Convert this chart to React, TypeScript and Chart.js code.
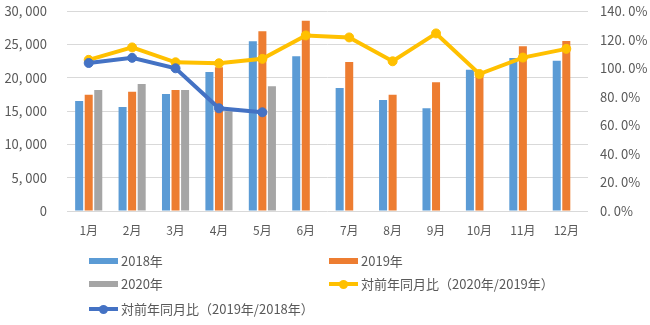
import React, { useEffect, useRef } from "react";
import { Chart, registerables } from "chart.js";

Chart.register(...registerables);

const months = ["1月", "2月", "3月", "4月", "5月", "6月", "7月", "8月", "9月", "10月", "11月", "12月"];
const sales2018 = [16500, 15600, 17550, 20850, 25450, 23200, 18450, 16650, 15400, 21200, 22950, 22550];
const sales2019 = [17450, 17900, 18150, 21550, 26950, 28550, 22350, 17450, 19300, 20400, 24700, 25500];
const sales2020 = [18150, 19050, 18150, 14950, 18700, null, null, null, null, null, null, null];
const ratioYellow = [1.058, 1.145, 1.041, 1.034, 1.065, 1.229, 1.215, 1.048, 1.243, 0.959, 1.074, 1.135];
const ratioBlue = [1.036, 1.072, 0.999, 0.719, 0.691, null, null, null, null, null, null, null];

const seriesNames = ["2018年", "2019年", "2020年", "対前年同月比（2020年/2019年）", "対前年同月比（2019年/2018年）"];
const colors = ["#5B9BD5", "#ED7D31", "#A5A5A5", "#FFC000", "#4472C4"];

const FONT = "'Noto Sans CJK JP', 'Noto Sans', sans-serif";
const TEXT = "#595959";

export default function App() {
  const ref = useRef<HTMLCanvasElement | null>(null);

  useEffect(() => {
    document.body.style.margin = "0";
    const ctx = ref.current!;
    const chart = new Chart(ctx, {
      type: "bar",
      data: {
        labels: months,
        datasets: [
          {
            type: "line",
            label: seriesNames[4],
            data: ratioBlue,
            yAxisID: "y1",
            borderColor: colors[4],
            backgroundColor: colors[4],
            borderWidth: 4,
            pointRadius: 4.5,
            pointBorderWidth: 1,
            order: 0,
          },
          {
            type: "line",
            label: seriesNames[3],
            data: ratioYellow,
            yAxisID: "y1",
            borderColor: colors[3],
            backgroundColor: colors[3],
            borderWidth: 4,
            pointRadius: 4.5,
            pointBorderWidth: 1,
            order: 1,
          },
          {
            label: seriesNames[0],
            data: sales2018,
            backgroundColor: colors[0],
            yAxisID: "y",
            categoryPercentage: 0.66,
            barPercentage: 0.84,
            order: 2,
          },
          {
            label: seriesNames[1],
            data: sales2019,
            backgroundColor: colors[1],
            yAxisID: "y",
            categoryPercentage: 0.66,
            barPercentage: 0.84,
            order: 2,
          },
          {
            label: seriesNames[2],
            data: sales2020,
            backgroundColor: colors[2],
            yAxisID: "y",
            categoryPercentage: 0.66,
            barPercentage: 0.84,
            order: 2,
          },
        ],
      } as any,
      options: {
        responsive: false,
        animation: false,
        devicePixelRatio: 1,
        layout: { padding: { top: 11, bottom: 84, left: 0, right: 0 } },
        plugins: {
          legend: { display: false },
          tooltip: { enabled: false },
        },
        scales: {
          x: {
            grid: { display: false },
            border: { display: false },
            ticks: { color: TEXT, font: { family: FONT, size: 12 }, padding: 4, maxRotation: 0 },
            afterFit: (s: any) => {
              s.height = 30;
              s.paddingLeft = 0;
              s.paddingRight = 0;
            },
          },
          y: {
            position: "left",
            min: 0,
            max: 30000,
            ticks: {
              stepSize: 5000,
              color: TEXT,
              font: { family: FONT, size: 13 },
              padding: 20,
              callback: (v: any) => Number(v).toLocaleString("en-US").replace(",", ", "),
            },
            grid: { color: "#D9D9D9", drawTicks: false, lineWidth: 1 },
            border: { display: false },
            afterFit: (s: any) => {
              s.width = 67;
              s.paddingTop = 0;
              s.paddingBottom = 0;
            },
          },
          y1: {
            position: "right",
            min: 0,
            max: 1.4,
            ticks: {
              stepSize: 0.2,
              color: TEXT,
              font: { family: FONT, size: 13 },
              padding: 12,
              callback: (v: any) => (Number(v) * 100).toFixed(1).replace(".", ". ") + "%",
            },
            grid: { drawOnChartArea: false, drawTicks: false },
            border: { display: false },
            afterFit: (s: any) => {
              s.width = 62;
              s.paddingTop = 0;
              s.paddingBottom = 0;
            },
          },
        },
      } as any,
    });
    return () => chart.destroy();
  }, []);

  const legendItems = [
    { i: 0, x: 89, y: 261, kind: "bar" },
    { i: 1, x: 329, y: 261, kind: "bar" },
    { i: 2, x: 89, y: 284, kind: "bar" },
    { i: 3, x: 329, y: 284, kind: "line" },
    { i: 4, x: 89, y: 309, kind: "line" },
  ];

  return (
    <div style={{ position: "relative", width: 650, height: 325, fontFamily: FONT }}>
      <canvas ref={ref} width={650} height={325} style={{ width: 650, height: 325, display: "block" }} />
      {legendItems.map((it) => (
        <div
          key={it.i}
          style={{
            position: "absolute",
            left: it.x,
            top: it.y - 10,
            height: 20,
            display: "flex",
            alignItems: "center",
            whiteSpace: "nowrap",
          }}
        >
          <div style={{ position: "relative", width: 29, height: 20, marginRight: 3 }}>
            {it.kind === "bar" ? (
              <div style={{ position: "absolute", left: 0, top: 7, width: 29, height: 6, background: colors[it.i] }} />
            ) : (
              <>
                <div style={{ position: "absolute", left: 0, top: 8, width: 29, height: 4, background: colors[it.i] }} />
                <div
                  style={{
                    position: "absolute",
                    left: 10,
                    top: 5.5,
                    width: 9,
                    height: 9,
                    borderRadius: "50%",
                    background: colors[it.i],
                  }}
                />
              </>
            )}
          </div>
          <span style={{ fontSize: 13, color: TEXT, lineHeight: "20px" }}>{seriesNames[it.i]}</span>
        </div>
      ))}
    </div>
  );
}
